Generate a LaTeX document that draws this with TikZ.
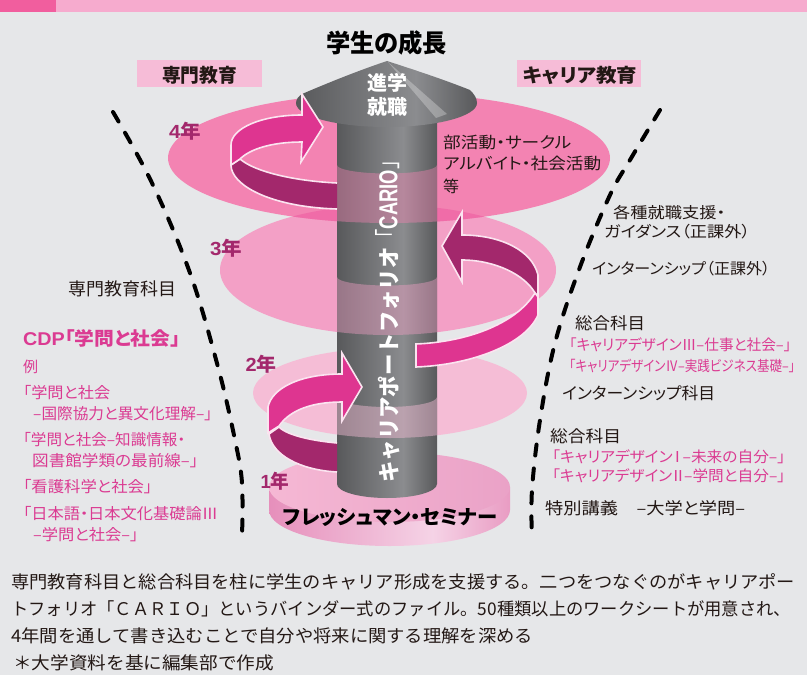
\documentclass[tikz,border=0pt]{standalone}
\usepackage{fontspec}
\setmainfont{Noto Sans CJK JP}[RawFeature=+palt]
\newfontfamily\jpfull{Noto Sans CJK JP}
\newfontfamily\latn{Liberation Sans}
\usetikzlibrary{calc}
\definecolor{bgc}{HTML}{E6E7E9}
\definecolor{barA}{HTML}{F15E9E}
\definecolor{barB}{HTML}{F6ABCE}
\definecolor{boxc}{HTML}{F6BCD7}
\definecolor{ellA}{HTML}{F383B2}
\definecolor{ellB}{HTML}{F3A0C6}
\definecolor{ellC}{HTML}{F5BDD6}
\definecolor{ellX}{HTML}{F06CA8}
\definecolor{darkp}{HTML}{A3286C}
\definecolor{midp}{HTML}{DE3590}
\definecolor{rimc}{HTML}{FBE4F0}
\definecolor{txtp}{HTML}{DB3B92}
\definecolor{txtk}{HTML}{231815}
\definecolor{gA}{HTML}{58595B}
\definecolor{gB}{HTML}{8B8C8F}
\definecolor{bsA}{HTML}{E68FBB}
\definecolor{bsB}{HTML}{F5D3E6}
\definecolor{bsC}{HTML}{E99CC3}
\definecolor{btA}{HTML}{F5B8D4}
\definecolor{btB}{HTML}{EAA2C7}
\pgfdeclarehorizontalshading{colsh}{100bp}{color(0bp)=(gA); color(25bp)=(gA); color(58bp)=(gB); color(75bp)=(gA); color(100bp)=(gA)}
\pgfdeclarehorizontalshading{bssh}{100bp}{color(0bp)=(bsA); color(25bp)=(bsA); color(59bp)=(bsB); color(75bp)=(bsC); color(100bp)=(bsC)}
\newcommand{\fw}[2]{\resizebox{#1pt}{\height}{#2}}
\tikzset{
  lab/.style={anchor=west,inner sep=0pt,text=txtk,font=\fontsize{#1}{#1}\selectfont},
  pinklab/.style={anchor=west,inner sep=0pt,text=txtp,font=\fontsize{#1}{#1}\selectfont},
  yearlab/.style={anchor=center,inner sep=0pt,text=darkp,font=\bfseries\fontsize{19}{19}\selectfont},
  band/.style={line width=1.6pt,draw=rimc,line join=miter},
  dashline/.style={line width=4pt,line cap=round,dash pattern=on 11pt off 13pt,black},
}
\begin{document}
\begin{tikzpicture}[x=1pt,y=-1pt]
\useasboundingbox (0,0) rectangle (807,675);
\fill[bgc] (0,0) rectangle (807,675);
\fill[barB] (56,0) rectangle (807,12);
\fill[barA] (0,0) rectangle (56,12);
% heading boxes
\fill[boxc] (137,60) rectangle (262,87);
\fill[boxc] (517,60) rectangle (641,87);
% ellipses
\fill[ellC] (390,393) ellipse [x radius=137,y radius=45];
\fill[ellB] (388,270) ellipse [x radius=168,y radius=65];
\fill[ellA] (389,158) ellipse [x radius=221,y radius=65];
\begin{scope}
\clip (389,158) ellipse [x radius=221,y radius=65];
\fill[ellX] (388,270) ellipse [x radius=168,y radius=65];
\end{scope}
% base disc
\shade[shading=bssh] (269,487) -- (269,510) arc [start angle=180,end angle=0,x radius=120.5,y radius=36] -- (510,487) -- cycle;
\shade[left color=btA,right color=btB] (389.5,487) ellipse [x radius=120.5,y radius=35];
% column
\shade[shading=colsh] (337,110) -- (337,484) arc [start angle=180,end angle=0,x radius=50,y radius=14] -- (437,110) -- cycle;
% translucent bands on the column
\begin{scope}
\clip (389,158) ellipse [x radius=221,y radius=65];
\fill[ellA,opacity=.42] (337,165) arc [start angle=180,end angle=0,x radius=50,y radius=8.5] -- (437,240) -- (337,240) -- cycle;
\end{scope}
\begin{scope}
\clip (388,270) ellipse [x radius=168,y radius=65];
\fill[ellB,opacity=.42] (337,277) arc [start angle=180,end angle=0,x radius=50,y radius=8.5] -- (437,350) -- (337,350) -- cycle;
\end{scope}
\begin{scope}
\clip (390,393) ellipse [x radius=137,y radius=45];
\fill[ellC,opacity=.45] (337,397) arc [start angle=180,end angle=0,x radius=50,y radius=10] -- (437,450) -- (337,450) -- cycle;
\end{scope}
% cap
\shade[shading=colsh] (296,103) .. controls (296,99) and (299,96) .. (302,94) .. controls (330,82) and (360,70) .. (387,61) .. controls (415,70) and (445,80) .. (470,90) .. controls (474,94) and (477,98) .. (477,103) arc [start angle=0,end angle=180,x radius=90.5,y radius=24] -- cycle;
\fill[white,opacity=.28] (388,62) -- (447,114) -- (436,118) -- cycle;
% dashed lines
\draw[dashline] plot[smooth,tension=.6] coordinates {(113,112) (152,183) (190,273) (218,367) (235,440) (242,483) (242,537)};
\draw[dashline] plot[smooth,tension=.6] coordinates {(660,110) (630,160) (610,195) (580,267) (555,343) (540,420) (532,490) (532,537)};
% 4th year arrow
\draw[band,fill=darkp] (337,183) .. controls (295,181) and (255,172) .. (240,159) -- (231,165) .. controls (231,185) and (270,207) .. (337,209);
\draw[band,fill=midp] (231,165) -- (231,145) .. controls (231,128) and (262,115) .. (302,115) -- (302,94) -- (323,127) -- (301,162) -- (302,142) .. controls (272,142) and (250,149) .. (240,159) -- cycle;
% 3rd year arrow
\draw[band,fill=darkp] (538,296) -- (538,275) .. controls (532,250) and (500,235) .. (462,235) -- (462,212) -- (442,246) -- (462,282) -- (462,260) .. controls (495,260) and (525,275) .. (535,293) -- cycle;
\draw[band,fill=midp] (416,344) .. controls (465,342) and (515,325) .. (535,293) -- (538,297) -- (538,315) .. controls (525,345) and (470,365) .. (416,367) -- cycle;
% 2nd year arrow
\draw[band,fill=darkp] (337,472) .. controls (300,470) and (272,455) .. (269,434) -- (279,427) .. controls (288,436) and (315,441) .. (337,443);
\draw[band,fill=midp] (268,433) -- (268,407) .. controls (272,388) and (300,374) .. (342,374) -- (342,353) -- (362,387) -- (342,421) -- (342,402) .. controls (312,402) and (290,410) .. (279,426) -- cycle;
% labels in the picture
\node[inner sep=0pt,text=black,font=\bfseries\fontsize{25}{25}\selectfont] (title) at (386.5,43) {\fw{121}{学生の成長}};
\node[inner sep=0pt,text=txtk,font=\bfseries\fontsize{19}{19}\selectfont] (senmon) at (199.5,75) {\fw{75}{専門教育}};
\node[inner sep=0pt,text=txtk,font=\bfseries\fontsize{19}{19}\selectfont] (career) at (580,75) {\fw{114}{キャリア教育}};
\node[inner sep=0pt,text=white,font=\bfseries\fontsize{20}{20}\selectfont] (shingaku) at (387,83) {\fw{40}{進学}};
\node[inner sep=0pt,text=white,font=\bfseries\fontsize{20}{20}\selectfont] (shushoku) at (387,107) {\fw{40}{就職}};
\node[rotate=90,inner sep=0pt,text=white,font=\jpfull\bfseries\fontsize{22}{22}\selectfont] (cario) at (387.5,317) {\fw{235}{キャリアポートフォリオ}\fw{96}{\fontsize{26}{26}\selectfont {\mdseries 「}{\latn\bfseries CARIO}{\mdseries 」}}};
\node[inner sep=0pt,text=black,font=\bfseries\fontsize{20}{20}\selectfont] (fresh) at (390,517) {\fw{214}{フレッシュマン・セミナー}};
\node[yearlab] (y4) at (185,131) {\fw{32}{{\latn 4}年}};
\node[yearlab] (y3) at (226,248) {\fw{32}{{\latn 3}年}};
\node[yearlab] (y2) at (261,364) {\fw{31}{{\latn 2}年}};
\node[yearlab] (y1) at (275,481) {\fw{29}{{\latn 1}年}};
\node[lab=16] (club1) at (443,142) {\fw{128}{部活動・サークル}};
\node[lab=16] (club2) at (443,163) {\fw{158}{アルバイト・社会活動}};
\node[lab=16] (club3) at (443,186) {\fw{16}{等}};
% right column
\node[lab=15.5] (r1) at (613,213) {\fw{112}{各種就職支援・}};
\node[lab=15.5] (r2) at (604,232) {\fw{146}{ガイダンス（正課外）}};
\node[lab=15.5] (r3) at (592,269) {\fw{178}{インターンシップ（正課外）}};
\node[lab=16.5] (r4) at (575,323) {\fw{70}{総合科目}};
\node[pinklab=15] (r5) at (569,345) {\fw{222}{「キャリアデザインⅢ–仕事と社会–」}};
\node[pinklab=14.5] (r6) at (569,366) {\fw{226}{「キャリアデザインⅣ–実践ビジネス基礎–」}};
\node[lab=16.5] (r7) at (562,393) {\fw{153}{インターンシップ科目}};
\node[lab=16.5] (r8) at (550,436) {\fw{71}{総合科目}};
\node[pinklab=15] (r9) at (552,457) {\fw{233}{「キャリアデザイン\kern-.18emⅠ\kern-.18em–未来の自分–」}};
\node[pinklab=15] (r10) at (552,476) {\fw{233}{「キャリアデザイン\kern-.12emⅡ\kern-.12em–学問と自分–」}};
\node[lab=16.5] (r11) at (545,508) {\fw{200}{特別講義　–大学と学問–}};
% left column
\node[lab=17.5] (l1) at (68,289) {\fw{108}{専門教育科目}};
\node[pinklab=18.5,font=\bfseries\fontsize{18.5}{18.5}\selectfont] (l2) at (23,338) {\fw{157}{{\latn CDP}「学問と社会」}};
\node[pinklab=15] (l3) at (23,367) {\fw{15}{例}};
\node[pinklab=15.5] (l4) at (23,393) {\fw{87}{「学問と社会}};
\node[pinklab=15.5] (l5) at (33,414) {\fw{179}{–国際協力と異文化理解–」}};
\node[pinklab=15.5] (l6) at (23,440) {\fw{162}{「学問と社会–知識情報・}};
\node[pinklab=15.5] (l7) at (32,461) {\fw{166}{図書館学類の最前線–」}};
\node[pinklab=15.5] (l8) at (23,487) {\fw{129}{「看護科学と社会」}};
\node[pinklab=15.5] (l9) at (23,514) {\fw{195}{「日本語・日本文化基礎論Ⅲ}};
\node[pinklab=15.5] (l10) at (33,535) {\fw{105}{–学問と社会–」}};
% bottom text
\node[lab=17.5,font=\jpfull\fontsize{17.5}{17.5}\selectfont] (b1) at (11,582) {\fw{784}{専門教育科目と総合科目を柱に学生のキャリア形成を支援する。二つをつなぐのがキャリアポー}};
\node[lab=17.5,font=\jpfull\fontsize{17.5}{17.5}\selectfont] (b2) at (11,609) {\fw{780}{トフォリオ「ＣＡＲＩＯ」というバインダー式のファイル。50種類以上のワークシートが用意され、}};
\node[lab=17.5,font=\jpfull\fontsize{17.5}{17.5}\selectfont] (b3) at (11,636) {\fw{522}{4年間を通して書き込むことで自分や将来に関する理解を深める}};
\node[lab=17.5,font=\jpfull\fontsize{17.5}{17.5}\selectfont] (b4) at (13,663) {\fw{261}{＊大学資料を基に編集部で作成}};
\end{tikzpicture}
\end{document}
